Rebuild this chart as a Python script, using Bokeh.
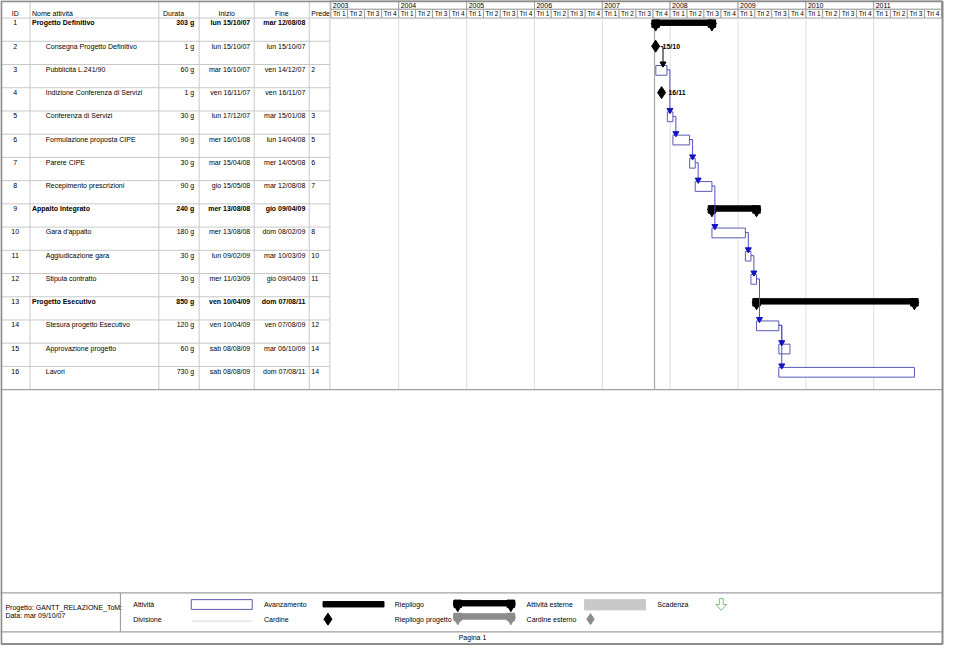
import pandas as pd
from bokeh.plotting import figure
from bokeh.models import Range1d
from bokeh.embed import file_html
from bokeh.resources import INLINE
from bokeh.core.properties import value

# ---------------- data ----------------
ids = list(range(1, 17))
names = ["Progetto Definitivo", "Consegna Progetto Definitivo", "Pubblicità L.241/90",
         "Indizione Conferenza di Servizi", "Conferenza di Servizi", "Formulazione proposta CIPE",
         "Parere CIPE", "Recepimento prescrizioni", "Appalto Integrato", "Gara d'appalto",
         "Aggiudicazione gara", "Stipula contratto", "Progetto Esecutivo",
         "Stesura progetto Esecutivo", "Approvazione progetto", "Lavori"]
kinds = ["summary", "milestone", "task", "milestone", "task", "task", "task", "task",
         "summary", "task", "task", "task", "summary", "task", "task", "task"]
durations = ["303 g", "1 g", "60 g", "1 g", "30 g", "90 g", "30 g", "90 g",
             "240 g", "180 g", "30 g", "30 g", "850 g", "120 g", "60 g", "730 g"]
start_labels = ["lun 15/10/07", "lun 15/10/07", "mar 16/10/07", "ven 16/11/07", "lun 17/12/07",
                "mer 16/01/08", "mar 15/04/08", "gio 15/05/08", "mer 13/08/08", "mer 13/08/08",
                "lun 09/02/09", "mer 11/03/09", "ven 10/04/09", "ven 10/04/09", "sab 08/08/09",
                "sab 08/08/09"]
end_labels = ["mar 12/08/08", "lun 15/10/07", "ven 14/12/07", "ven 16/11/07", "mar 15/01/08",
              "lun 14/04/08", "mer 14/05/08", "mar 12/08/08", "gio 09/04/09", "dom 08/02/09",
              "mar 10/03/09", "gio 09/04/09", "dom 07/08/11", "ven 07/08/09", "mar 06/10/09",
              "dom 07/08/11"]
predecessors = ["", "", "2", "", "3", "5", "6", "7", "", "8", "10", "11", "", "12", "14", "14"]
start_dates = ["2007-10-15", "2007-10-15", "2007-10-16", "2007-11-16", "2007-12-17",
               "2008-01-16", "2008-04-15", "2008-05-15", "2008-08-13", "2008-08-13",
               "2009-02-09", "2009-03-11", "2009-04-10", "2009-04-10", "2009-08-08",
               "2009-08-08"]
end_dates = ["2008-08-12", "2007-10-15", "2007-12-14", "2007-11-16", "2008-01-15",
             "2008-04-14", "2008-05-14", "2008-08-12", "2009-04-09", "2009-02-08",
             "2009-03-10", "2009-04-09", "2011-08-07", "2009-08-07", "2009-10-06",
             "2011-08-07"]
milestone_labels = ["", "15/10", "", "16/11", "", "", "", "", "", "", "", "", "", "", "", ""]
years = [2003, 2004, 2005, 2006, 2007, 2008, 2009, 2010, 2011]
quarter_labels = ["Tri 1", "Tri 2", "Tri 3", "Tri 4"]
status_date = "2007-10-09"
header_labels = ["ID", "Nome attività", "Durata", "Inizio", "Fine", "Predecessori"]

# ---------------- layout (reference pixel space) ----------------
W, H = 960, 661
HEAD = 18.0
ROW = 23.8
TBOT = HEAD + ROW * len(ids)
COLS = [30, 161, 202, 258, 314, 335]
GX0, GX1 = 336, 957
FONT = value("Liberation Sans")
GRID = "#c8c8c8"
FRAME = "#8c8c8c"
BAR_LINE = "#5a5ab4"
LINK = "#5050c0"
ARROW = "#1414c0"


def ms(d):
    return pd.Timestamp(d).value / 1e6


DAY = 86400000.0
t0 = ms(f"{years[0]}-01-01")
t1 = ms(f"{years[-1] + 1}-01-01")
MSPX = (t1 - t0) / (GX1 - GX0)

p = figure(width=944, height=645, x_range=Range1d(0, W), y_range=Range1d(H, 0),
           x_axis_type=None, y_axis_type=None, toolbar_location=None,
           output_backend="svg", min_border=0, outline_line_color=None,
           background_fill_color="white", border_fill_color="white")
p.extra_x_ranges = {"time": Range1d(start=t0 - GX0 * MSPX, end=t1 + (W - GX1) * MSPX)}
p.extra_y_ranges = {"rows": Range1d(start=(H - HEAD) / ROW, end=-HEAD / ROW)}


def rv(i, px):
    """row value: top of row index i (0-based) + px pixels"""
    return i + px / ROW


# ---------------- table ----------------
# header texts (drawn before gantt header so that "Predecessori" is clipped)
p.text(x=[15, 32, 176, 230, 286, 316], y=[13] * 6, text=header_labels,
       text_align=["center", "left", "center", "center", "center", "left"],
       text_baseline="middle", text_font=FONT, text_font_size="7px", text_color="black")

n = len(ids)
top_rows = [rv(i, 0) for i in range(n)]
p.segment(x0=[0] * n, x1=[COLS[-1]] * n, y0=top_rows, y1=top_rows,
          y_range_name="rows", line_color=GRID, line_width=1)
p.segment(x0=COLS, x1=COLS, y0=[0] * len(COLS), y1=[TBOT] * len(COLS),
          line_color=GRID, line_width=1)

for bold in (True, False):
    sel = [i for i in range(n) if (kinds[i] == "summary") == bold]
    ys = [rv(i, 5) for i in sel]
    style = "bold" if bold else "normal"
    p.text(x=[15] * len(sel), y=ys, text=[str(ids[i]) for i in sel], y_range_name="rows",
           text_align="center", text_baseline="middle", text_font=FONT,
           text_font_size="7px", text_color="black")
    p.text(x=[32 if bold else 46] * len(sel), y=ys, text=[names[i] for i in sel],
           y_range_name="rows", text_align="left", text_baseline="middle", text_font=FONT,
           text_font_size="7px", text_font_style=style, text_color="black")
    p.text(x=[197] * len(sel), y=ys, text=[durations[i] for i in sel], y_range_name="rows",
           text_align="right", text_baseline="middle", text_font=FONT,
           text_font_size="7px", text_font_style=style, text_color="black")
    p.text(x=[254] * len(sel), y=ys, text=[start_labels[i] for i in sel], y_range_name="rows",
           text_align="right", text_baseline="middle", text_font=FONT,
           text_font_size="7px", text_font_style=style, text_color="black")
    p.text(x=[310] * len(sel), y=ys, text=[end_labels[i] for i in sel], y_range_name="rows",
           text_align="right", text_baseline="middle", text_font=FONT,
           text_font_size="7px", text_font_style=style, text_color="black")
    p.text(x=[316] * len(sel), y=ys, text=[predecessors[i] for i in sel], y_range_name="rows",
           text_align="left", text_baseline="middle", text_font=FONT,
           text_font_size="7px", text_color="black")

# ---------------- gantt header ----------------
ystart = [ms(f"{y}-01-01") for y in years]
yend = [ms(f"{y + 1}-01-01") for y in years]
p.quad(left=ystart, right=yend, top=[0] * len(years), bottom=[9] * len(years),
       x_range_name="time", fill_color="white", line_color="#a0a0a0", line_width=1)
p.text(x=[s + 2 * MSPX for s in ystart], y=[4.8] * len(years), text=[str(y) for y in years],
       x_range_name="time", text_align="left", text_baseline="middle", text_font=FONT,
       text_font_size="7px", text_color="black")
qs, qe, ql = [], [], []
for y in years:
    for k, lab in enumerate(quarter_labels):
        qs.append(ms(f"{y}-{3 * k + 1:02d}-01"))
        qe.append(ms(f"{y + 1}-01-01") if k == 3 else ms(f"{y}-{3 * k + 4:02d}-01"))
        ql.append(lab)
p.quad(left=qs, right=qe, top=[9] * len(qs), bottom=[HEAD] * len(qs),
       x_range_name="time", fill_color="white", line_color="#a0a0a0", line_width=1)
p.text(x=[(a + b) / 2 for a, b in zip(qs, qe)], y=[13.8] * len(qs), text=ql,
       x_range_name="time", text_align="center", text_baseline="middle", text_font=FONT,
       text_font_size="6.5px", text_color="black")

# year grid lines and status date line
p.segment(x0=ystart[1:], x1=ystart[1:], y0=[HEAD] * (len(years) - 1), y1=[TBOT] * (len(years) - 1),
          x_range_name="time", line_color="#dedede", line_width=1)
sd = ms(status_date)
p.segment(x0=[sd], x1=[sd], y0=[HEAD], y1=[TBOT], x_range_name="time",
          line_color="#a8a8a8", line_width=1.2)

# ---------------- gantt bars ----------------
s_ms = [ms(d) for d in start_dates]
e_ms = [ms(d) + DAY for d in end_dates]

task_i = [i for i in range(n) if kinds[i] == "task"]
p.quad(left=[s_ms[i] for i in task_i], right=[e_ms[i] for i in task_i],
       top=[rv(i, 1) for i in task_i], bottom=[rv(i, 11) for i in task_i],
       x_range_name="time", y_range_name="rows", fill_color="white",
       line_color=BAR_LINE, line_width=1)

sum_i = [i for i in range(n) if kinds[i] == "summary"]
p.quad(left=[s_ms[i] for i in sum_i], right=[e_ms[i] for i in sum_i],
       top=[rv(i, 2) for i in sum_i], bottom=[rv(i, 7.5) for i in sum_i],
       x_range_name="time", y_range_name="rows", fill_color="black", line_color="black")
cap_x = [s_ms[i] for i in sum_i] + [e_ms[i] for i in sum_i]
cap_y = [rv(i, 5.2) for i in sum_i] * 2
p.scatter(x=cap_x, y=[c + 0.5 / ROW for c in cap_y], marker="square", size=7.5,
          x_range_name="time", y_range_name="rows", fill_color="black", line_color="black")
p.scatter(x=cap_x, y=[c + 2.8 / ROW for c in cap_y], marker="inverted_triangle", size=9,
          x_range_name="time", y_range_name="rows", fill_color="black", line_color="black")

# ---------------- links ----------------
hx0, hx1, hy, vx, vy0, vy1, ax, ay, lc = [], [], [], [], [], [], [], [], []
for i, pr in enumerate(predecessors):
    if not pr:
        continue
    j = ids.index(int(pr))
    if kinds[j] == "milestone":
        xf = s_ms[j] + 5 * MSPX
        xv = s_ms[j] + 7.5 * MSPX
        col = "black"
    else:
        xf = e_ms[j]
        xv = e_ms[j] + 3 * MSPX
        col = LINK
    yf = rv(j, 5.5)
    hx0.append(xf); hx1.append(xv); hy.append(yf)
    vx.append(xv); vy0.append(yf); vy1.append(rv(i, -1))
    ax.append(xv); ay.append(rv(i, -0.8)); lc.append(col)
p.segment(x0=hx0, x1=hx1, y0=hy, y1=hy, x_range_name="time", y_range_name="rows",
          line_color=lc, line_width=1)
p.segment(x0=vx, x1=vx, y0=vy0, y1=vy1, x_range_name="time", y_range_name="rows",
          line_color=lc, line_width=1)
p.scatter(x=ax, y=ay, marker="inverted_triangle", size=6, x_range_name="time",
          y_range_name="rows", fill_color=[ARROW if c != "black" else "black" for c in lc],
          line_color=[ARROW if c != "black" else "black" for c in lc])

# ---------------- milestones ----------------
mil_i = [i for i in range(n) if kinds[i] == "milestone"]
p.scatter(x=[s_ms[i] for i in mil_i], y=[rv(i, 5) for i in mil_i], marker="diamond", size=12,
          x_range_name="time", y_range_name="rows", fill_color="black", line_color="black")
p.text(x=[s_ms[i] + 7 * MSPX for i in mil_i], y=[rv(i, 5) for i in mil_i],
       text=[milestone_labels[i] for i in mil_i], x_range_name="time", y_range_name="rows",
       text_align="left", text_baseline="middle", text_font=FONT, text_font_size="7px",
       text_font_style="bold", text_color="black")

# ---------------- frame and footer ----------------
p.segment(x0=[0, 0, 0, 122], x1=[958, 958, 958, 122], y0=[TBOT, 607, 647, 607],
          y1=[TBOT, 607, 647, 647], line_color="#a0a0a0", line_width=1.2)
p.quad(left=[0.8], right=[958], top=[0.8], bottom=[659.5], fill_color=None,
       line_color=FRAME, line_width=2)

p.text(x=[5, 5], y=[622, 630.5], text=["Progetto: GANTT_RELAZIONE_ToM:", "Data: mar 09/10/07"],
       text_align="left", text_baseline="middle", text_font=FONT, text_font_size="7px",
       text_color="black")
leg_x = [135, 135, 268, 268, 401, 401, 535, 535, 668]
leg_y = [619, 634, 619, 634, 619, 634, 619, 634, 619]
leg_t = ["Attività", "Divisione", "Avanzamento", "Cardine", "Riepilogo", "Riepilogo progetto",
         "Attività esterne", "Cardine esterno", "Scadenza"]
p.text(x=leg_x, y=leg_y, text=leg_t, text_align="left", text_baseline="middle",
       text_font=FONT, text_font_size="7px", text_color="black")
p.text(x=[480], y=[652.5], text=["Pagina 1"], text_align="center", text_baseline="middle",
       text_font=FONT, text_font_size="7px", text_color="black")

p.quad(left=[194], right=[256], top=[614], bottom=[624], fill_color="white",
       line_color=BAR_LINE, line_width=1)
p.segment(x0=[195], x1=[256], y0=[636], y1=[636], line_color="#a8a8c8", line_dash="1 1",
          line_width=1)
p.quad(left=[328], right=[390], top=[616], bottom=[621.5], fill_color="black", line_color="black")
p.scatter(x=[333], y=[634], marker="diamond", size=12, fill_color="black", line_color="black")
for yy, colr in ((615, "black"), (628.5, "#8c8c8c")):
    p.quad(left=[461], right=[523], top=[yy], bottom=[yy + 5.5], fill_color=colr, line_color=colr)
    p.scatter(x=[465, 519], y=[yy + 3.3, yy + 3.3], marker="square", size=7.5,
              fill_color=colr, line_color=colr)
    p.scatter(x=[465, 519], y=[yy + 6, yy + 6], marker="inverted_triangle", size=9,
              fill_color=colr, line_color=colr)
p.quad(left=[594], right=[656], top=[614], bottom=[624.5], fill_color="#c8c8c8",
       line_color="#c8c8c8")
p.scatter(x=[600], y=[634], marker="diamond", size=11, fill_color="#8c8c8c",
          line_color="#8c8c8c")
p.patch(x=[731, 735, 735, 738.5, 733, 727.5, 731], y=[613, 613, 619, 619, 625, 619, 619],
        fill_color="white", line_color="#78c078", line_width=1)

open("out.html", "w").write(file_html(p, INLINE))
